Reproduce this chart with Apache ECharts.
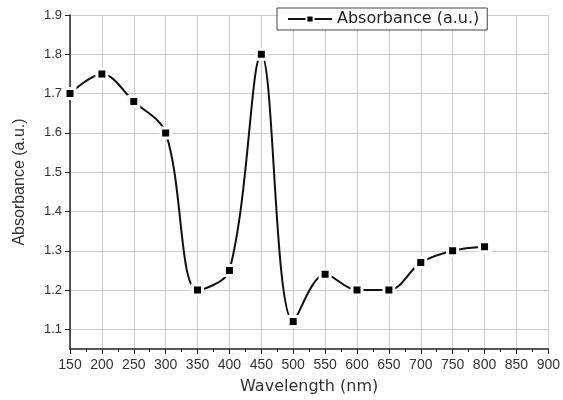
<!DOCTYPE html>
<html>
<head>
<meta charset="utf-8">
<script src="https://cdn.jsdelivr.net/npm/echarts@6/dist/echarts.min.js"></script>
<style>
html,body{margin:0;padding:0;background:#fff;}
#main{width:563px;height:400px;}
</style>
</head>
<body>
<div id="main"></div>
<script>
// wavelength (nm) and absorbance
var wavelength = [150, 200, 250, 300, 350, 400, 450, 500, 550, 600, 650, 700, 750, 800];
var absorbance = [1.70, 1.75, 1.68, 1.60, 1.20, 1.25, 1.80, 1.12, 1.24, 1.20, 1.20, 1.27, 1.30, 1.31];
var yTicks = [1.1, 1.2, 1.3, 1.4, 1.5, 1.6, 1.7, 1.8, 1.9];
var seriesName = 'Absorbance (a.u.)';

var points = [];
for (var i = 0; i < wavelength.length; i++) {
	points.push([wavelength[i], absorbance[i]]);
}

var chart = echarts.init(document.getElementById('main'));
var option = {
	animation: false,
	backgroundColor: '#fff',
	textStyle: { fontFamily: 'Liberation Sans, Arial, sans-serif' },
	grid: { left: 70, right: 14, top: 15, bottom: 50 },
	legend: {
		data: [seriesName],
		left: 277,
		top: 8,
		itemWidth: 44,
		itemHeight: 9,
		itemGap: 6,
		padding: [3, 8, 3, 10],
		borderColor: '#444',
		borderWidth: 1,
		backgroundColor: '#fff',
		textStyle: { fontSize: 16, color: '#222', fontFamily: 'DejaVu Sans' }
	},
	xAxis: {
		type: 'value',
		min: 150,
		max: 900,
		interval: 50,
		name: 'Wavelength (nm)',
		nameLocation: 'middle',
		nameGap: 30,
		nameTextStyle: { fontSize: 16, color: '#333', fontFamily: 'DejaVu Sans' },
		axisLine: { lineStyle: { color: '#222', width: 1.5 } },
		axisTick: { inside: false, length: 5, lineStyle: { color: '#222' } },
		minorTick: { show: true, splitNumber: 2, length: 3, lineStyle: { color: '#222' } },
		axisLabel: { fontSize: 14, color: '#333', margin: 9 },
		splitLine: { show: true, lineStyle: { color: '#ccc', width: 1 } }
	},
	yAxis: {
		type: 'value',
		min: 1.05,
		max: 1.9,
		name: 'Absorbance (a.u.)',
		nameLocation: 'middle',
		nameGap: 42,
		nameTextStyle: { fontSize: 16, color: '#333' },
		axisLine: { show: true, lineStyle: { color: '#222', width: 1.5 } },
		axisTick: { show: true, length: 5, customValues: yTicks, lineStyle: { color: '#222' } },
		axisLabel: {
			fontSize: 13, color: '#333', margin: 8, customValues: yTicks,
			formatter: function (v) { return v.toFixed(1); }
		},
		splitLine: { show: true, lineStyle: { color: '#ccc', width: 1 } }
	},
	series: [{
		name: seriesName,
		type: 'line',
		data: points,
		smooth: 0.35,
		symbol: 'rect',
		symbolSize: 10,
		lineStyle: { color: '#111', width: 2 },
		itemStyle: { color: '#000', borderColor: '#fff', borderWidth: 3 }
	}]
};
chart.setOption(option);
</script>
</body>
</html>
